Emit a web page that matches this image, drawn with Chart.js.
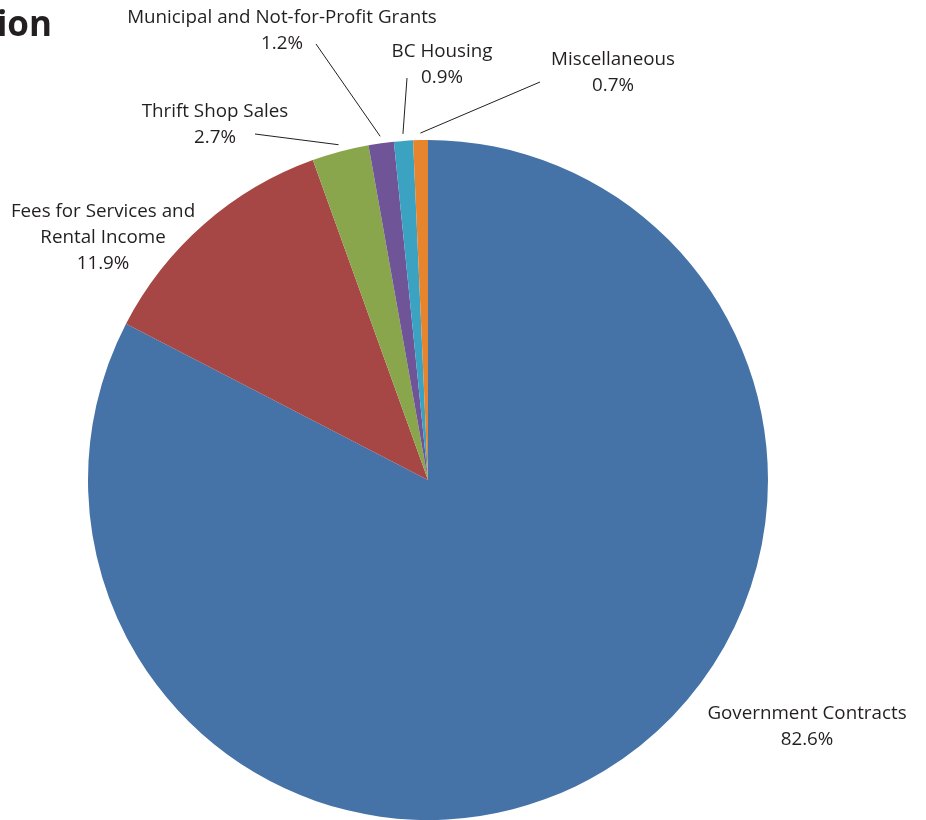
<!DOCTYPE html>
<html>
<head>
<meta charset="utf-8">
<script src="https://cdn.jsdelivr.net/npm/chart.js@4/dist/chart.umd.min.js"></script>
<style>
  html, body { margin: 0; padding: 0; background: #fff; }
  #wrap { width: 926px; height: 820px; position: relative; }
</style>
</head>
<body>
<div id="wrap"><canvas id="pieChart"></canvas></div>
<script>
const categories = [
    'Government Contracts',
    'Fees for Services and Rental Income',
    'Thrift Shop Sales',
    'Municipal and Not-for-Profit Grants',
    'BC Housing',
    'Miscellaneous'
];
const shares = [82.6, 11.9, 2.7, 1.2, 0.9, 0.7];
const sliceColors = ['#4673a7', '#a64645', '#8aa64c', '#6f5597', '#3ba3c1', '#e7852f'];

// label lines as shown (text wraps), and where the text block sits
const labelLines = [
    ['Government Contracts'],
    ['Fees for Services and', 'Rental Income'],
    ['Thrift Shop Sales'],
    ['Municipal and Not-for-Profit Grants'],
    ['BC Housing'],
    ['Miscellaneous']
];
const labelPos = [
    {x: 807, y: 714},
    {x: 103, y: 212},
    {x: 215, y: 112},
    {x: 282, y: 18},
    {x: 442, y: 52},
    {x: 613, y: 60}
];
// leader line start (near the text), null = no line
const leaderFrom = [null, null, {x: 255, y: 134}, {x: 316, y: 44}, {x: 407, y: 78}, {x: 540, y: 82}];

const LINE_H = 26;
const FONT = '18.8px "Open Sans", sans-serif';

const pieLabels = {
    id: 'pieLabels',
    afterDraw(chart) {
        const ctx = chart.ctx;
        const arcs = chart.getDatasetMeta(0).data;
        ctx.save();
        ctx.fillStyle = '#231f20';
        ctx.font = FONT;
        ctx.textAlign = 'center';
        ctx.textBaseline = 'middle';
        shares.forEach((v, i) => {
            const p = labelPos[i];
            const lines = labelLines[i].concat([v.toFixed(1) + '%']);
            lines.forEach((t, k) => ctx.fillText(t, p.x, p.y + k * LINE_H));

            const from = leaderFrom[i];
            if (from) {
                const a = arcs[i];
                const mid = (a.startAngle + a.endAngle) / 2;
                const r = a.outerRadius + 7;
                ctx.beginPath();
                ctx.strokeStyle = '#231f20';
                ctx.lineWidth = 1;
                ctx.moveTo(from.x, from.y);
                ctx.lineTo(a.x + Math.cos(mid) * r, a.y + Math.sin(mid) * r);
                ctx.stroke();
            }
        });
        // cropped title fragment
        ctx.font = 'bold 35px "Open Sans", sans-serif';
        ctx.textAlign = 'right';
        ctx.textBaseline = 'alphabetic';
        ctx.fillText('ion', 52, 36);
        ctx.restore();
    }
};

const ctx = document.getElementById('pieChart').getContext('2d');
new Chart(ctx, {
    type: 'pie',
    data: {
        labels: categories,
        datasets: [{
            data: shares,
            backgroundColor: sliceColors,
            borderWidth: 0
        }]
    },
    options: {
        responsive: true,
        maintainAspectRatio: false,
        animation: false,
        rotation: 0,
        layout: { padding: { left: 88, right: 158, top: 140, bottom: 0 } },
        plugins: {
            legend: { display: false },
            tooltip: { enabled: false }
        }
    },
    plugins: [pieLabels]
});
</script>
</body>
</html>
